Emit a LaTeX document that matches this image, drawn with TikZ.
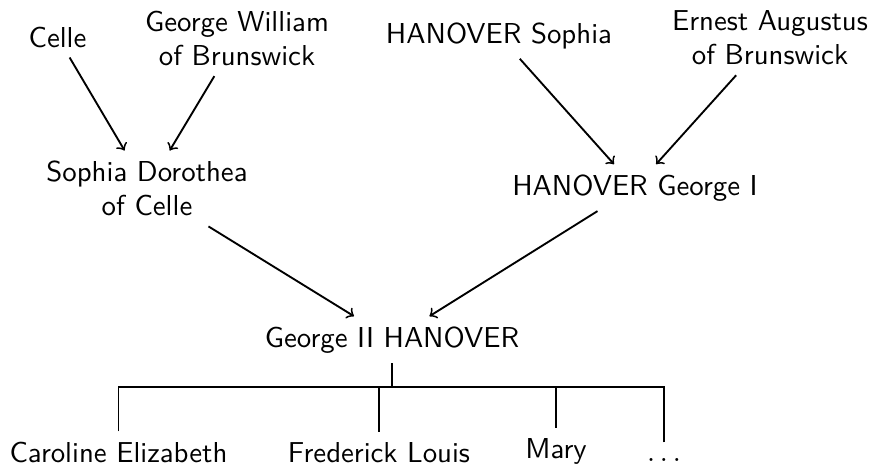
\documentclass[tikz,border=0pt]{standalone}
\begin{document}
\begin{tikzpicture}[x=0.347pt,y=-0.347pt, font=\sffamily,
  person/.style={align=center},
  arr/.style={->, line width=0.65pt},
  tree/.style={line width=0.6pt},
  stem/.style={line width=0.9pt}]
\useasboundingbox (0,0) rectangle (873,464);
\node[anchor=base] (celle) at (57.5,47) {Celle};
\node[person, anchor=north] (gw) at (237,0.5) {George William\\of Brunswick};
\node[anchor=base] (hs) at (499,43) {HANOVER Sophia};
\node[person, anchor=north] (ea) at (770,0) {Ernest Augustus\\of Brunswick};
\node[person, anchor=north] (sd) at (147,150.5) {Sophia Dorothea\\of Celle};
\node[anchor=base] (g1) at (635,195) {HANOVER George I};
\node[anchor=base] (g2) at (392,347) {George II HANOVER};
\node[anchor=base] (ce) at (118.5,462) {Caroline Elizabeth};
\node[anchor=base] (fl) at (379,462) {Frederick Louis};
\node[anchor=base] (ma) at (556,458) {Mary};
\node[anchor=base, text height=2.9pt] (dd) at (664,461) {$\ldots$};
\draw[arr] (celle) -- (sd);
\draw[arr] (gw) -- (sd);
\draw[arr] (hs) -- (g1);
\draw[arr] (ea) -- (g1);
\draw[arr] (sd) -- (g2);
\draw[arr] (g1) -- (g2);
\coordinate (bar) at (392,387);
\draw[stem] (g2.south) -- (bar);
\draw[tree] (ce.north) |- (bar);
\draw[tree] (fl.north) |- (bar);
\draw[tree] (ma.north) |- (bar);
\draw[tree] (dd.north) |- (bar);
\end{tikzpicture}
\end{document}
